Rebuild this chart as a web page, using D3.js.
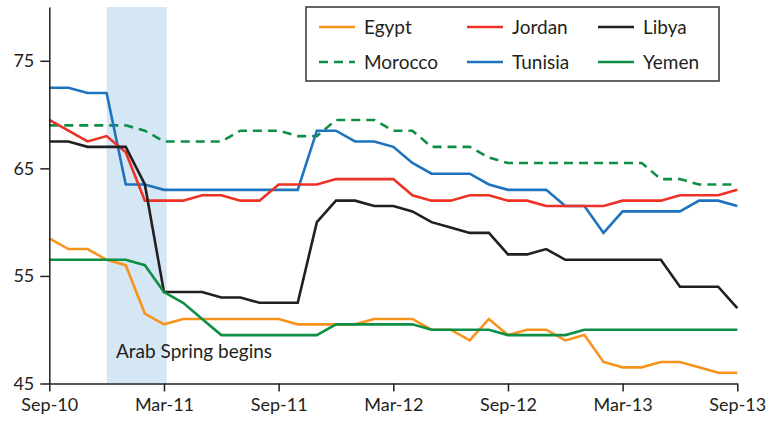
<!DOCTYPE html>
<html>
<head>
<meta charset="utf-8">
<script src="https://cdn.jsdelivr.net/npm/d3@7"></script>
<style>
  html, body { margin: 0; padding: 0; background: #fff; }
  svg text { font-family: Lato, "Open Sans", sans-serif; fill: #231f20; }
</style>
</head>
<body>
<svg id="chart" width="768" height="423"></svg>
<script>
// Monthly index values, Sep-10 .. Sep-13 (37 months)
const months = ["Sep-10","Oct-10","Nov-10","Dec-10","Jan-11","Feb-11","Mar-11","Apr-11","May-11","Jun-11","Jul-11","Aug-11",
  "Sep-11","Oct-11","Nov-11","Dec-11","Jan-12","Feb-12","Mar-12","Apr-12","May-12","Jun-12","Jul-12","Aug-12",
  "Sep-12","Oct-12","Nov-12","Dec-12","Jan-13","Feb-13","Mar-13","Apr-13","May-13","Jun-13","Jul-13","Aug-13","Sep-13"];

const egypt   = [58.5,57.5,57.5,56.5,56,51.5,50.5,51,51,51,51,51,51,50.5,50.5,50.5,50.5,51,51,51,50,50,49,51,49.5,50,50,49,49.5,47,46.5,46.5,47,47,46.5,46,46];
const jordan  = [69.5,68.5,67.5,68,66.5,62,62,62,62.5,62.5,62,62,63.5,63.5,63.5,64,64,64,64,62.5,62,62,62.5,62.5,62,62,61.5,61.5,61.5,61.5,62,62,62,62.5,62.5,62.5,63];
const libya   = [67.5,67.5,67,67,67,63.5,53.5,53.5,53.5,53,53,52.5,52.5,52.5,60,62,62,61.5,61.5,61,60,59.5,59,59,57,57,57.5,56.5,56.5,56.5,56.5,56.5,56.5,54,54,54,52];
const morocco = [69,69,69,69,69,68.5,67.5,67.5,67.5,67.5,68.5,68.5,68.5,68,68,69.5,69.5,69.5,68.5,68.5,67,67,67,66,65.5,65.5,65.5,65.5,65.5,65.5,65.5,65.5,64,64,63.5,63.5,63.5];
const tunisia = [72.5,72.5,72,72,63.5,63.5,63,63,63,63,63,63,63,63,68.5,68.5,67.5,67.5,67,65.5,64.5,64.5,64.5,63.5,63,63,63,61.5,61.5,59,61,61,61,61,62,62,61.5];
const yemen   = [56.5,56.5,56.5,56.5,56.5,56,53.5,52.5,51,49.5,49.5,49.5,49.5,49.5,49.5,50.5,50.5,50.5,50.5,50.5,50,50,50,50,49.5,49.5,49.5,49.5,50,50,50,50,50,50,50,50,50];

const xTickLabels = ["Sep-10","Mar-11","Sep-11","Mar-12","Sep-12","Mar-13","Sep-13"];
const yTicks = [45, 55, 65, 75];

// Arab Spring period, in month positions from Sep-10
const springStart = 3;
const springEnd = 6.15;
const springLabel = "Arab Spring begins";

const series = [
  { name: "Egypt",   values: egypt,   color: "#f7941d", dash: null },
  { name: "Jordan",  values: jordan,  color: "#ed3124", dash: null },
  { name: "Libya",   values: libya,   color: "#231f20", dash: null },
  { name: "Morocco", values: morocco, color: "#0f8f45", dash: "9,6" },
  { name: "Tunisia", values: tunisia, color: "#1e73be", dash: null },
  { name: "Yemen",   values: yemen,   color: "#0f8f45", dash: null }
];

const svg = d3.select("#chart");
const x = d3.scaleLinear().domain([0, months.length - 1]).range([49.3, 737.3]);
const y = d3.scaleLinear().domain([45, 80]).range([383.5, 7]);

// shaded band
svg.append("rect")
  .attr("x", x(springStart)).attr("y", y(80))
  .attr("width", x(springEnd) - x(springStart))
  .attr("height", y(45) - y(80))
  .attr("fill", "#d5e7f5");

svg.append("text")
  .attr("x", 116).attr("y", 358)
  .attr("font-size", 19)
  .text(springLabel);

// lines
const line = d3.line().x((d, i) => x(i)).y(d => y(d));
const order = ["Morocco", "Tunisia", "Jordan", "Libya", "Egypt", "Yemen"];
order.forEach(n => {
  const s = series.find(d => d.name === n);
  svg.append("path")
    .datum(s.values)
    .attr("d", line)
    .attr("fill", "none")
    .attr("stroke", s.color)
    .attr("stroke-width", 2.6)
    .attr("stroke-linejoin", "miter")
    .attr("stroke-dasharray", s.dash);
});

// axes
const tickIdx = xTickLabels.map(l => months.indexOf(l));
const xAxis = d3.axisBottom(x).tickValues(tickIdx)
  .tickFormat(i => months[i]).tickSize(8).tickPadding(7).tickSizeOuter(0);
const gx = svg.append("g").attr("transform", `translate(0,${y(45)})`).call(xAxis);

const yAxis = d3.axisLeft(y).tickValues(yTicks).tickSize(9).tickPadding(6).tickSizeOuter(0);
const gy = svg.append("g").attr("transform", `translate(${x(0)},0)`).call(yAxis);

[gx, gy].forEach(g => {
  g.select(".domain").attr("stroke", "#231f20").attr("stroke-width", 1.5);
  g.selectAll(".tick line").attr("stroke", "#231f20").attr("stroke-width", 1.5);
  g.selectAll(".tick text").attr("font-size", 18).attr("fill", "#231f20")
    .attr("font-family", "Lato, 'Open Sans', sans-serif");
});

// legend
const lg = svg.append("g");
lg.append("rect")
  .attr("x", 306).attr("y", 7).attr("width", 413).attr("height", 74)
  .attr("fill", "#fff").attr("stroke", "#333").attr("stroke-width", 1.5);
const colX = [319, 467, 598];
const rowY = [27, 62];
series.forEach((s, k) => {
  const cx = colX[k % 3], cy = rowY[Math.floor(k / 3)];
  lg.append("line")
    .attr("x1", cx).attr("x2", cx + 36).attr("y1", cy).attr("y2", cy)
    .attr("stroke", s.color).attr("stroke-width", 2.6)
    .attr("stroke-dasharray", s.dash);
  lg.append("text")
    .attr("x", cx + 45).attr("y", cy).attr("dy", "0.35em")
    .attr("font-size", 19)
    .text(s.name);
});
</script>
</body>
</html>
